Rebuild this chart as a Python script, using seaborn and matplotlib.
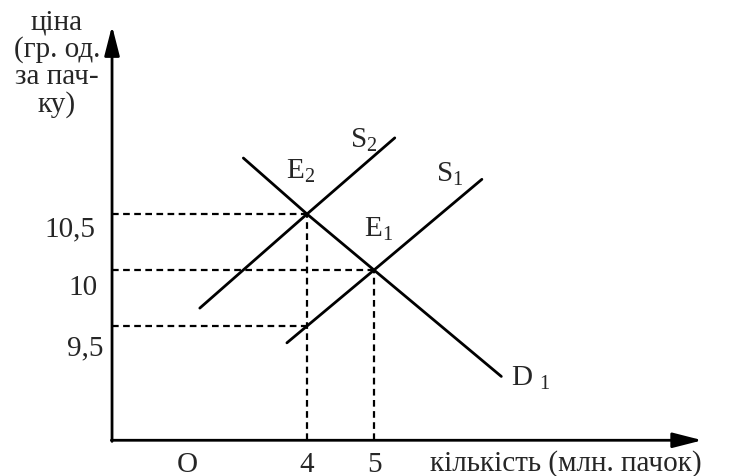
import matplotlib
matplotlib.use('Agg')
import matplotlib.pyplot as plt
import seaborn as sns

# supply / demand lines (quantity, price)
d1_q = [3.05, 4.0, 5.0, 6.9]
d1_p = [11.0, 10.5, 10.0, 9.05]
s1_q = [3.7, 4.0, 5.0, 6.61]
s1_p = [9.35, 9.5, 10.0, 10.81]
s2_q = [2.4, 4.0, 5.31]
s2_p = [9.66, 10.5, 11.18]

# guide lines to the axes
price_levels = [10.5, 10.0, 9.5]
price_ends = [4.0, 5.0, 4.0]
price_labels = ['10,5', '10', '9,5']
qty_levels = [4.0, 5.0]
qty_tops = [10.5, 10.0]
qty_labels = ['4', '5']

q0, p0 = 1.09, 8.48  # where the axes cross

sns.set_style('white')
plt.rcParams['font.family'] = ['Liberation Serif', 'DejaVu Serif']
plt.rcParams['mathtext.fontset'] = 'custom'
plt.rcParams['mathtext.rm'] = 'Liberation Serif'
plt.rcParams['mathtext.it'] = 'Liberation Serif'

fig = plt.figure(figsize=(7.31, 4.77), dpi=100)
ax = fig.add_axes([0, 0, 1, 1])
ax.set_xlim(-0.582, 10.328)
ax.set_ylim(8.161, 12.42)
ax.axis('off')

for q, p in [(d1_q, d1_p), (s1_q, s1_p), (s2_q, s2_p)]:
    sns.lineplot(x=q, y=p, ax=ax, color='black', lw=2.0)

dash = (0, (3, 2))
for lev, end in zip(price_levels, price_ends):
    ax.plot([q0, end], [lev, lev], color='black', lw=1.6, linestyle=dash)
for lev, top in zip(qty_levels, qty_tops):
    ax.plot([lev, lev], [p0, top], color='black', lw=1.6, linestyle=dash)

# axes with arrow heads
arrow = dict(arrowstyle='-|>,head_length=0.9,head_width=0.23', color='black',
             lw=2.0, shrinkA=0, shrinkB=0, mutation_scale=20)
ax.annotate('', xy=(q0, 12.18), xytext=(q0, p0 - 0.01), arrowprops=arrow)
ax.annotate('', xy=(9.9, p0), xytext=(q0 - 0.01, p0), arrowprops=arrow)

fs = 21
# price tick labels
ax.text(0.84, 10.375, price_labels[0], fontsize=fs, ha='right', va='center')
ax.text(0.87, 9.848, price_labels[1], fontsize=fs, ha='right', va='center')
ax.text(0.96, 9.31, price_labels[2], fontsize=fs, ha='right', va='center')
# quantity tick labels
ax.text(2.21, 8.27, 'O', fontsize=fs, ha='center', va='center')
for lev, lab in zip(qty_levels, qty_labels):
    ax.text(lev, 8.27, lab, fontsize=fs, ha='center', va='center')
ax.text(5.84, 8.285, 'кількість (млн. пачок)', fontsize=fs, ha='left', va='center')
ax.text(0.27, 11.85, 'ціна\n(гр. од.\nза пач-\nку)', fontsize=fs, ha='center',
        va='center', multialignment='center', linespacing=1.05)

# curve names
ax.text(3.9, 10.89, r'$\mathrm{E_2}$', fontsize=fs, ha='center', va='center')
ax.text(4.85, 11.17, r'$\mathrm{S_2}$', fontsize=fs, ha='center', va='center')
ax.text(6.13, 10.86, r'$\mathrm{S_1}$', fontsize=fs, ha='center', va='center')
ax.text(5.06, 10.375, r'$\mathrm{E_1}$', fontsize=fs, ha='center', va='center')
ax.text(7.34, 9.045, r'$\mathrm{D\ _1}$', fontsize=fs, ha='center', va='center')

fig.savefig('out.png', dpi=100)
